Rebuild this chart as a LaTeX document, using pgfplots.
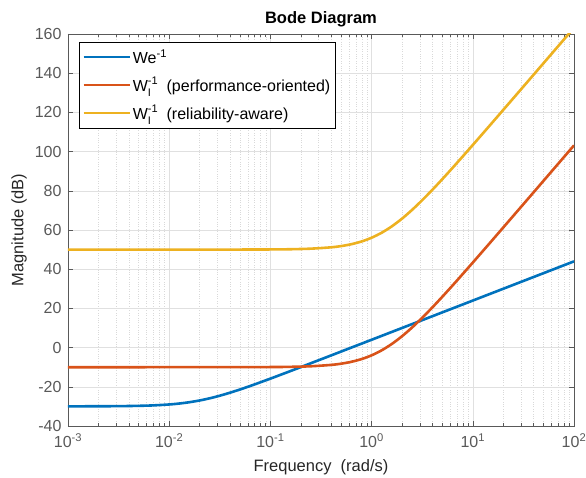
\documentclass[border=0pt]{standalone}
\usepackage{pgfplots}
\pgfplotsset{compat=1.18}
\usepackage{fontspec}
\setmainfont{Liberation Sans}
\definecolor{mblue}{rgb}{0,0.447,0.741}
\definecolor{mred}{rgb}{0.85,0.325,0.098}
\definecolor{myellow}{rgb}{0.929,0.694,0.125}
\definecolor{axgray}{rgb}{0.35,0.35,0.35}
\newcommand{\WI}{W\rlap{\raisebox{-5pt}{\fontsize{11}{11}\selectfont I}}\raisebox{7pt}{\fontsize{11}{11}\selectfont -1}}
\begin{document}
\begin{tikzpicture}
\begin{axis}[
  at={(0,0)}, anchor=south west,
  scale only axis, width=506pt, height=392pt,
  xmode=log, xmin=1e-3, xmax=1e2, ymin=-40, ymax=160,
  xtick={1e-3,1e-2,1e-1,1e0,1e1,1e2},
  xticklabels={10\textsuperscript{-3},10\textsuperscript{-2},10\textsuperscript{-1},10\textsuperscript{0},10\textsuperscript{1},10\textsuperscript{2}},
  ytick={-40,-20,...,160},
  /pgf/number format/assume math mode=true,
  grid=major, xminorgrids=true,
  major grid style={draw=black!12, line width=0.6pt},
  minor grid style={draw=black!15, dotted, line width=0.5pt},
  axis line style={draw=axgray, line width=0.6pt},
  tick style={draw=axgray, line width=0.6pt},
  major tick length=5pt, minor tick length=3pt,
  tick align=inside,
  ticklabel style={font=\fontsize{16}{18}\selectfont, text=axgray},
  xticklabel style={yshift=-4pt},
  yticklabel style={xshift=-3pt},
  xlabel={Frequency\ \ (rad/s)},
  ylabel={Magnitude (dB)},
  label style={font=\fontsize{16.5}{18}\selectfont, text=black!85},
  xlabel style={yshift=-5pt},
  ylabel style={yshift=1pt},
  title={\bfseries Bode Diagram},
  title style={font=\fontsize{16.5}{18}\selectfont\bfseries, yshift=-3pt},
  legend cell align=left,
  legend style={at={(0,1)}, anchor=north west, xshift=11pt, yshift=-8pt,
    draw=black, line width=0.6pt, fill=white,
    font=\fontsize{16}{18}\selectfont, row sep=8pt, inner xsep=3pt, inner ysep=5pt},
  legend image code/.code={\draw[#1] (0pt,0pt) -- (46pt,0pt);},
  every axis plot/.append style={line width=2.6pt},
]
\addplot[mblue, smooth] coordinates {
(0.001,-29.97) (0.0031623,-29.87) (0.0063096,-29.57) (0.01,-29.01) (0.012589,-28.53)
(0.015849,-27.86) (0.019953,-26.98) (0.025119,-25.87) (0.031623,-24.54) (0.039811,-23.02)
(0.050119,-21.36) (0.063096,-19.59) (0.079433,-17.73) (0.1,-15.83) (0.15849,-11.93)
(0.25119,-7.97) (0.39811,-3.99) (0.63096,0.01) (1,4.0) (10,24) (100,44)
};
\addlegendentry{We\textsuperscript{-1}}
\addplot[mred, smooth] coordinates {
(0.001,-10) (0.031623,-9.99) (0.1,-9.92) (0.15849,-9.81) (0.25119,-9.52) (0.39811,-8.83)
(0.50119,-8.20) (0.63096,-7.24) (0.79433,-5.87) (1,-3.94) (1.2589,-1.38) (1.5849,1.87)
(1.9953,5.77) (2.5119,10.26) (3.1623,15.20) (3.9811,20.48) (5.0119,26.01) (6.3096,31.70)
(7.9433,37.51) (10,43.38) (12.589,49.30) (15.849,55.25) (19.953,61.22) (31.623,73.18) (100,103.17)
};
\addlegendentry{\WI\ \ (performance-oriented)}
\addplot[myellow, smooth] coordinates {
(0.001,50) (0.031623,50.01) (0.1,50.08) (0.15849,50.19) (0.25119,50.48) (0.39811,51.17)
(0.50119,51.80) (0.63096,52.76) (0.79433,54.13) (1,56.06) (1.2589,58.62) (1.5849,61.87)
(1.9953,65.77) (2.5119,70.26) (3.1623,75.20) (3.9811,80.48) (5.0119,86.01) (6.3096,91.70)
(7.9433,97.51) (10,103.38) (12.589,109.30) (15.849,115.25) (19.953,121.22) (31.623,133.18) (100,163.17)
};
\addlegendentry{\WI\ \ (reliability-aware)}
\end{axis}
\pgfresetboundingbox
\useasboundingbox (-68pt,-51pt) rectangle (518pt,426pt);
\end{tikzpicture}
\end{document}
